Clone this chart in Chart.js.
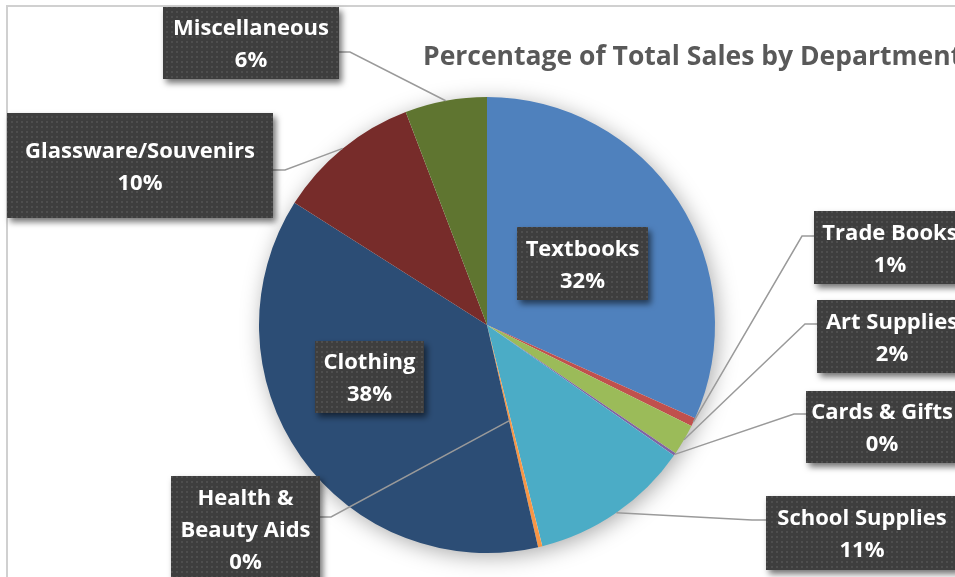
<!DOCTYPE html>
<html>
<head>
<meta charset="utf-8">
<script src="https://cdn.jsdelivr.net/npm/chart.js@4"></script>
<style>
  html, body { margin: 0; padding: 0; background: #fff; overflow: hidden; }
  #wrap { position: relative; width: 955px; height: 577px; }
</style>
</head>
<body>
<div id="wrap"><canvas id="salesPie" width="955" height="577"></canvas></div>
<script>
// department share of total sales (%), clockwise from 12 o'clock
const departments = ['Textbooks', 'Trade Books', 'Art Supplies', 'Cards & Gifts', 'School Supplies', 'Health & Beauty Aids', 'Clothing', 'Glassware/Souvenirs', 'Miscellaneous'];
const salesShare = [31.7, 0.6, 2.2, 0.2, 11.4, 0.3, 37.6, 10.2, 5.8];
const sliceColors = ['#4F81BD', '#C0504D', '#9BBB59', '#8064A2', '#4BACC6', '#F79646', '#2C4D75', '#772C2A', '#5F7530'];
const chartTitle = 'Percentage of Total Sales by Department';

// label boxes: [x, y, w, h], text lines, leader (null = label sits on the slice)
// leader = { from: [x, y] on the box edge, stub: dx, reach: fraction of radius }
const labelLayout = [
    { box: [517, 227, 131, 73], lines: ['Textbooks'], leader: null },
    { box: [814, 211, 152, 73], lines: ['Trade Books'], leader: { from: [814, 236], stub: -12, reach: 1 } },
    { box: [817, 300, 150, 73], lines: ['Art Supplies'], leader: { from: [817, 324], stub: -12, reach: 1 } },
    { box: [806, 391, 152, 72], lines: ['Cards & Gifts'], leader: { from: [806, 414], stub: -12, reach: 1 } },
    { box: [766, 496, 192, 74], lines: ['School Supplies'], leader: { from: [766, 520], stub: -14, reach: 1 } },
    { box: [171, 476, 149, 106], lines: ['Health &', 'Beauty Aids'], leader: { from: [320, 517], stub: 11, reach: 0.43 } },
    { box: [315, 341, 109, 72], lines: ['Clothing'], leader: null },
    { box: [7, 113, 266, 105], lines: ['Glassware/Souvenirs'], leader: { from: [273, 170], stub: 12, reach: 1 } },
    { box: [163, 7, 176, 72], lines: ['Miscellaneous'], leader: { from: [339, 52], stub: 11, reach: 1 } }
];

function dotPattern(ctx) {
    const c = document.createElement('canvas');
    c.width = 5; c.height = 5;
    const p = c.getContext('2d');
    p.fillStyle = '#3e3e3e'; p.fillRect(0, 0, 5, 5);
    p.fillStyle = '#4e4e4e'; p.fillRect(1, 1, 2, 2);
    return ctx.createPattern(c, 'repeat');
}

const frameAndTitle = {
    id: 'frameAndTitle',
    beforeDraw(chart) {
        const ctx = chart.ctx;
        ctx.save();
        ctx.fillStyle = '#d0d0d0';
        ctx.fillRect(6, 5, 2, chart.height);
        ctx.fillRect(6, 5, chart.width, 2);
        ctx.fillStyle = '#595959';
        ctx.font = 'bold 26.5px "Open Sans"';
        ctx.textBaseline = 'alphabetic';
        ctx.fillText(chartTitle, 423, 65);
        ctx.restore();
    },
    beforeDatasetsDraw(chart) {
        // soft shadow behind the whole pie
        const arc = chart.getDatasetMeta(0).data[0];
        const ctx = chart.ctx;
        ctx.save();
        ctx.shadowColor = 'rgba(0,0,0,0.35)';
        ctx.shadowBlur = 22;
        ctx.shadowOffsetX = 3;
        ctx.shadowOffsetY = 4;
        ctx.fillStyle = '#fff';
        ctx.beginPath();
        ctx.arc(arc.x, arc.y, arc.outerRadius - 1, 0, Math.PI * 2);
        ctx.fill();
        ctx.restore();
    }
};

const boxLabels = {
    id: 'boxLabels',
    afterDatasetsDraw(chart) {
        const ctx = chart.ctx;
        const arcs = chart.getDatasetMeta(0).data;
        const total = salesShare.reduce((s, v) => s + v, 0);
        const fill = dotPattern(ctx);

        // leader lines first, boxes on top
        ctx.save();
        ctx.strokeStyle = '#9a9a9a';
        ctx.lineWidth = 1.5;
        labelLayout.forEach((l, i) => {
            if (!l.leader) return;
            const a = arcs[i];
            const mid = (a.startAngle + a.endAngle) / 2;
            const r = a.outerRadius * l.leader.reach;
            const [fx, fy] = l.leader.from;
            ctx.beginPath();
            ctx.moveTo(fx, fy);
            ctx.lineTo(fx + l.leader.stub, fy);
            ctx.lineTo(a.x + Math.cos(mid) * r, a.y + Math.sin(mid) * r);
            ctx.stroke();
        });
        ctx.restore();

        labelLayout.forEach((l, i) => {
            const [x, y, w, h] = l.box;
            ctx.save();
            ctx.shadowColor = 'rgba(0,0,0,0.55)';
            ctx.shadowBlur = 6;
            ctx.shadowOffsetX = 3;
            ctx.shadowOffsetY = 4;
            ctx.fillStyle = fill;
            ctx.fillRect(x, y, w, h);
            ctx.restore();

            const lines = l.lines.concat([Math.round(salesShare[i] / total * 100) + '%']);
            const cx = x + w / 2, cy = y + h / 2;
            ctx.save();
            ctx.fillStyle = '#fff';
            ctx.font = 'bold 22px "Open Sans"';
            ctx.textAlign = 'center';
            ctx.textBaseline = 'alphabetic';
            lines.forEach((txt, k) => {
                ctx.fillText(txt, cx, cy + (k - (lines.length - 1) / 2) * 32 + 8);
            });
            ctx.restore();
        });
    }
};

new Chart(document.getElementById('salesPie'), {
    type: 'pie',
    data: {
        labels: departments,
        datasets: [{ data: salesShare, backgroundColor: sliceColors, borderWidth: 0, hoverOffset: 0, offset: 0 }]
    },
    options: {
        responsive: false, animation: false,
        layout: { padding: { top: 97, bottom: 24, left: 259, right: 240 } },
        plugins: { legend: { display: false }, title: { display: false }, tooltip: { enabled: false } }
    },
    plugins: [frameAndTitle, boxLabels]
});
</script>
</body>
</html>
